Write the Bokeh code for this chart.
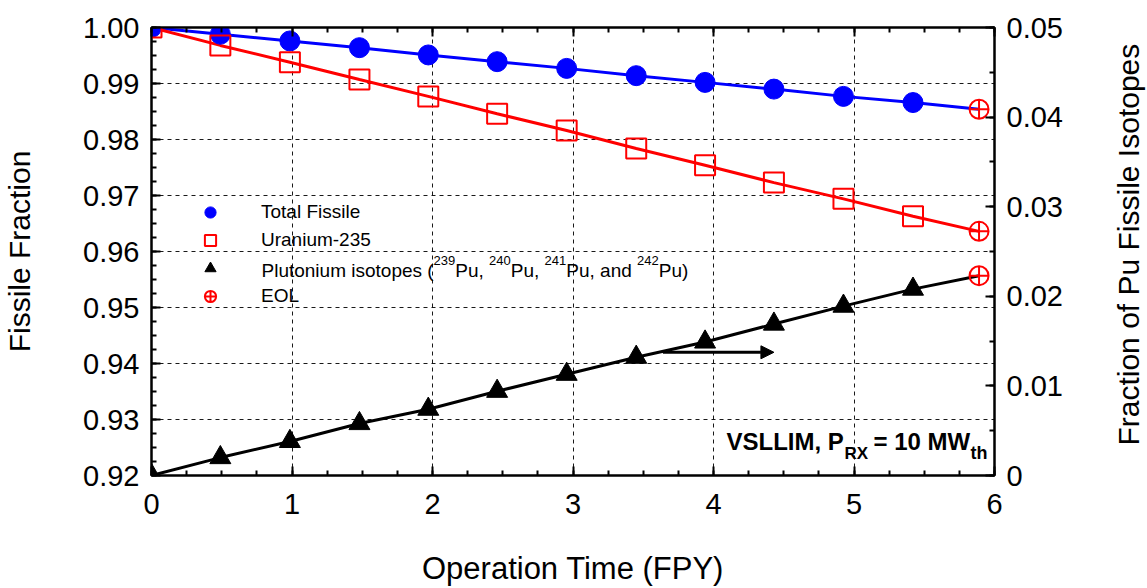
import math
from bokeh.plotting import figure
from bokeh.layouts import row
from bokeh.models import (Range1d, LinearAxis, SingleIntervalTicker, CustomJSTickFormatter,
                          Legend, LegendItem, Label, Arrow, NormalHead, CustomLabelingPolicy)
from bokeh.embed import file_html
from bokeh.resources import INLINE

# ---- data ----
time_fpy = [0.0, 0.49, 0.985, 1.48, 1.97, 2.46, 2.955, 3.45, 3.94, 4.43, 4.925, 5.42]
total_fissile = [1.0000, 0.9988, 0.9976, 0.9964, 0.9951, 0.9939, 0.9927, 0.9914, 0.9902, 0.9890, 0.9877, 0.9866]
uranium_235 = [1.0000, 0.9968, 0.9938, 0.9907, 0.9877, 0.9846, 0.9816, 0.9784, 0.9754, 0.9723, 0.9694, 0.9663]
plutonium = [0.0, 0.0020, 0.0038, 0.0058, 0.0074, 0.0094, 0.0113, 0.0132, 0.0149, 0.0169, 0.0189, 0.0208]
eol_time = 5.89
eol_total = 0.9854
eol_u235 = 0.9636
eol_pu = 0.0223

legend_labels = ["Total Fissile", "Uranium-235", "", "EOL"]
# Plutonium legend text, drawn in pieces so the mass numbers are real superscripts
pu_label_parts = [("Plutonium isotopes (", False), ("239", True), ("Pu, ", False), ("240", True),
                  ("Pu, ", False), ("241", True), ("Pu, and ", False), ("242", True), ("Pu)", False)]
right_title = "Fraction of Pu Fissile Isotopes"

FONT = "Liberation Sans"

X0, Y0 = 0.0, 0.92            # data at frame's left / bottom edge
PX_X, PX_Y = 843 / 6.0, 450 / 0.08   # pixels per data unit
FRAME_LEFT, FRAME_BOTTOM = 151, 477
BASE_SHIFT = 0.3              # Label "alphabetic" anchor sits ~0.3em low


def px_to_x(px):
    return X0 + (px - FRAME_LEFT) / PX_X


def py_to_y(py, size=0):
    return Y0 + (FRAME_BOTTOM - (py - BASE_SHIFT * size)) / PX_Y


p = figure(width=1110, height=588, x_range=Range1d(0, 6), y_range=Range1d(0.92, 1.0),
           output_backend="svg", toolbar_location=None,
           min_border_left=151, min_border_right=116, min_border_top=27, min_border_bottom=111)
p.extra_y_ranges = {"pu": Range1d(0, 0.05)}
p.background_fill_color = "white"
p.border_fill_color = "white"
p.outline_line_color = "black"
p.outline_line_width = 2

x_ticker = SingleIntervalTicker(interval=1, num_minor_ticks=4)
y_ticker = SingleIntervalTicker(interval=0.01, num_minor_ticks=4)
pu_ticker = SingleIntervalTicker(interval=0.01, num_minor_ticks=2)


def style_axis(ax, label_size="29px"):
    ax.axis_line_width = 2
    ax.axis_line_color = "black"
    ax.major_tick_in = 9
    ax.major_tick_out = 0
    ax.minor_tick_in = 5
    ax.minor_tick_out = 0
    ax.major_tick_line_width = 2
    ax.minor_tick_line_width = 2
    ax.major_label_text_font = FONT
    ax.major_label_text_font_size = label_size
    ax.major_label_text_color = "black"
    ax.major_label_standoff = 12
    ax.axis_label_text_font = FONT
    ax.axis_label_text_font_size = "30px"
    ax.axis_label_text_font_style = "normal"
    ax.axis_label_text_color = "black"


xa = p.xaxis[0]
xa.ticker = x_ticker
xa.formatter = CustomJSTickFormatter(code="return tick.toFixed(0);")
xa.axis_label = "Operation Time (FPY)"
style_axis(xa)
xa.axis_label_text_font_size = "31px"
xa.major_label_standoff = 18
xa.axis_label_standoff = 34

ya = p.yaxis[0]
ya.ticker = y_ticker
ya.formatter = CustomJSTickFormatter(code="return tick.toFixed(2);")
ya.axis_label = "Fissile Fraction"
style_axis(ya)
ya.axis_label_standoff = 44

# top axis: tick marks only, no labels
top = LinearAxis(ticker=x_ticker,
                 major_label_policy=CustomLabelingPolicy(
                     code="for (const i of Array.from(indices.ones())) { indices.unset(i) } return indices;"))
style_axis(top)
top.major_label_text_alpha = 0
p.add_layout(top, "above")

ra = LinearAxis(y_range_name="pu", ticker=pu_ticker,
                formatter=CustomJSTickFormatter(code="return Math.abs(tick) < 1e-9 ? '0' : tick.toFixed(2);"))
style_axis(ra)
p.add_layout(ra, "right")

for g in (p.xgrid[0], p.ygrid[0]):
    g.grid_line_color = "black"
    g.grid_line_dash = "4 4"
    g.grid_line_width = 1
    g.grid_line_alpha = 0.9
p.xgrid[0].ticker = x_ticker
p.ygrid[0].ticker = y_ticker

# ---- lines ----
p.line(time_fpy + [eol_time], total_fissile + [eol_total], line_color="#0000ff", line_width=3)
p.line(time_fpy + [eol_time], uranium_235 + [eol_u235], line_color="#ff0000", line_width=3)
p.line(time_fpy + [eol_time], plutonium + [eol_pu], line_color="black", line_width=3, y_range_name="pu")

# ---- markers ----
r_total = p.scatter(time_fpy, total_fissile, marker="circle", size=20,
                    fill_color="#0000ff", line_color="#0000ff")
r_u235 = p.scatter(time_fpy, uranium_235, marker="square", size=20,
                   fill_color=None, line_color="#ff0000", line_width=2)
r_pu = p.scatter(time_fpy, plutonium, marker="triangle", size=21,
                 fill_color="black", line_color="black", y_range_name="pu")
r_eol = p.scatter([eol_time, eol_time], [eol_total, eol_u235], marker="circle_cross", size=19,
                  fill_color=None, line_color="#ff0000", line_width=2)
p.scatter([eol_time], [eol_pu], marker="circle_cross", size=19,
          fill_color=None, line_color="#ff0000", line_width=2, y_range_name="pu")

# ---- arrow pointing to the right axis ----
p.add_layout(Arrow(end=NormalHead(size=13, fill_color="black", line_color="black"),
                   x_start=3.64, y_start=0.942, x_end=4.43, y_end=0.942,
                   line_color="black", line_width=3))

# ---- legend ----
legend = Legend(items=[LegendItem(label=legend_labels[0], renderers=[r_total]),
                       LegendItem(label=legend_labels[1], renderers=[r_u235]),
                       LegendItem(label=legend_labels[2], renderers=[r_pu]),
                       LegendItem(label=legend_labels[3], renderers=[r_eol])],
                location=(43, 165), orientation="vertical",
                padding=0, margin=0, spacing=0,
                border_line_alpha=0, background_fill_alpha=0,
                glyph_width=32, glyph_height=28, label_height=28, label_standoff=35,
                label_text_font=FONT, label_text_font_size="19px", label_text_color="black")
p.add_layout(legend)

# plutonium legend label with superscript mass numbers (Arial-metric advance widths)
ADV = {"P": .667, "l": .222, "u": .556, "t": .278, "o": .556, "n": .556, "i": .222, "m": .833,
       " ": .278, "s": .5, "p": .556, "e": .556, "(": .333, ")": .333, ",": .278, "a": .556,
       "d": .556, "0": .556, "1": .556, "2": .556, "3": .556, "4": .556, "9": .556}
MAIN_SIZE, SUP_SIZE = 19, 13
cursor = 261.0
for txt, sup in pu_label_parts:
    size = SUP_SIZE if sup else MAIN_SIZE
    base_py = 264.5 if sup else 276.5
    p.add_layout(Label(x=px_to_x(cursor), y=py_to_y(base_py, size), text=txt,
                       text_font=FONT, text_font_size=f"{size}px", text_color="black",
                       text_baseline="alphabetic", text_align="left"))
    cursor += sum(ADV[c] for c in txt) * size

# ---- annotation: VSLLIM, P_RX = 10 MW_th ----
ann_main = dict(text_font=FONT, text_font_style="bold", text_color="black", text_baseline="alphabetic")
p.add_layout(Label(x=px_to_x(726), y=py_to_y(450, 24), text="VSLLIM, P", text_font_size="24px", **ann_main))
p.add_layout(Label(x=px_to_x(844), y=py_to_y(460, 17), text="RX", text_font_size="17px", **ann_main))
p.add_layout(Label(x=px_to_x(873), y=py_to_y(450, 24), text="= 10 MW", text_font_size="24px", **ann_main))
p.add_layout(Label(x=px_to_x(970), y=py_to_y(460, 18), text="th", text_font_size="18px", **ann_main))

# ---- strip on the right holding the right-axis title (reads bottom-to-top) ----
p2 = figure(width=37, height=588, x_range=Range1d(0, 37), y_range=Range1d(0, 588),
            output_backend="svg", toolbar_location=None, min_border=0,
            x_axis_location=None, y_axis_location=None)
p2.outline_line_color = None
p2.background_fill_color = "white"
p2.border_fill_color = "white"
p2.xgrid.visible = False
p2.ygrid.visible = False
p2.add_layout(Label(x=18, y=588 - 285, text=right_title, angle=math.pi / 2,
                    text_align="center", text_baseline="middle",
                    text_font=FONT, text_font_size="30px", text_color="black"))

open("out.html", "w").write(file_html(row(p, p2, spacing=0), INLINE))
